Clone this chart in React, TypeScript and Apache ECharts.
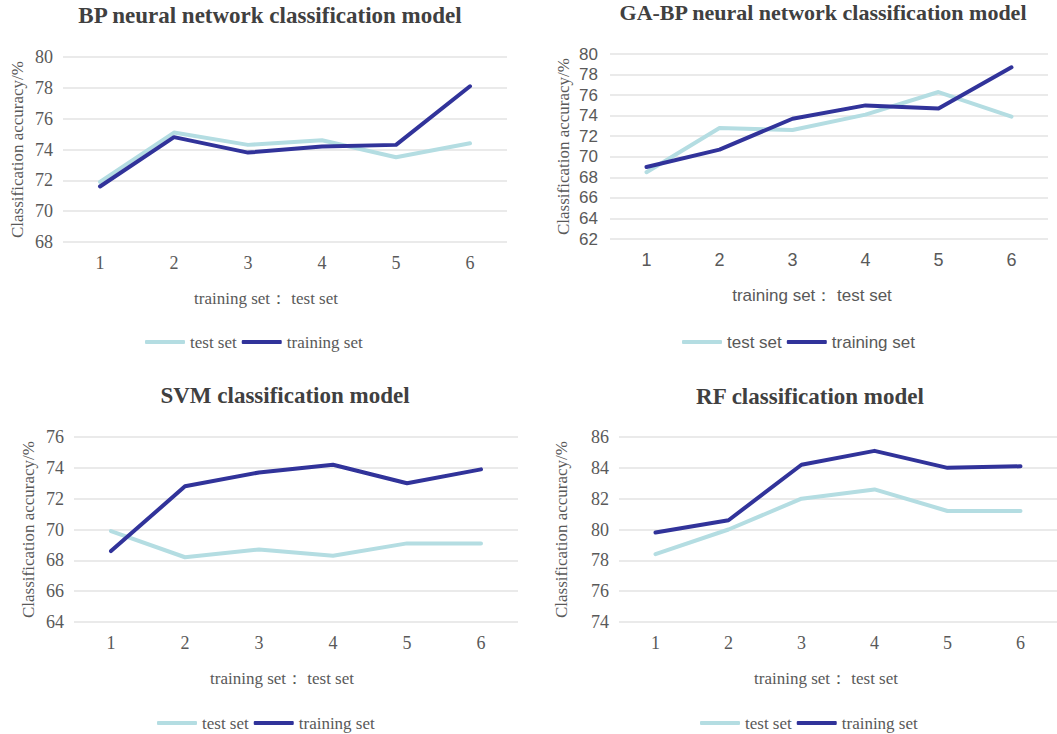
import React, { useEffect, useRef } from "react";
import * as echarts from "echarts";

const categories = ["1", "2", "3", "4", "5", "6"];
const seriesNames = ["test set", "training set"];

const bpTest = [71.9, 75.1, 74.3, 74.6, 73.5, 74.4];
const bpTrain = [71.6, 74.8, 73.8, 74.2, 74.3, 78.1];
const gaTest = [68.5, 72.8, 72.6, 74.1, 76.3, 73.9];
const gaTrain = [69.0, 70.7, 73.7, 75.0, 74.7, 78.7];
const svmTest = [69.9, 68.2, 68.7, 68.3, 69.1, 69.1];
const svmTrain = [68.6, 72.8, 73.7, 74.2, 73.0, 73.9];
const rfTest = [78.4, 80.0, 82.0, 82.6, 81.2, 81.2];
const rfTrain = [79.8, 80.6, 84.2, 85.1, 84.0, 84.1];

const titles = [
  "BP neural network classification model",
  "GA-BP neural network classification model",
  "SVM classification model",
  "RF classification model",
];
const yRanges = [
  [68, 80],
  [62, 80],
  [64, 76],
  [74, 86],
];
const yName = "Classification accuracy/%";
const xName = "training set\uff1a test set";

const SERIF = "'Liberation Serif', 'Times New Roman', serif";
const SANS = "'Liberation Sans', Arial, sans-serif";
const TEST_COLOR = "#b4dde2";
const TRAIN_COLOR = "#31339a";

const layout = [
  { left: 63, top: 57, width: 444, titleX: 270, titleY: 4, titleSize: 23, legendLeft: 145, legendTop: 332, yGap: 37, xPad: 38, sans: false },
  { left: 610, top: 54, width: 438, titleX: 823, titleY: 1, titleSize: 22, legendLeft: 682, legendTop: 332, yGap: 38, xPad: 34, sans: true },
  { left: 74, top: 437, width: 444, titleX: 285, titleY: 384, titleSize: 23, legendLeft: 157, legendTop: 713, yGap: 37, xPad: 28, sans: false },
  { left: 619, top: 437, width: 438, titleX: 810, titleY: 385, titleSize: 23, legendLeft: 700, legendTop: 713, yGap: 49, xPad: 24, sans: false },
];
const dataSets = [
  [bpTest, bpTrain],
  [gaTest, gaTrain],
  [svmTest, svmTrain],
  [rfTest, rfTrain],
];

export default function App() {
  const ref = useRef<HTMLDivElement>(null);
  useEffect(() => {
    if (!ref.current) return;
    const chart = echarts.init(ref.current, null, { renderer: "svg" });
    const option: any = {
      animation: false,
      backgroundColor: "#ffffff",
      title: layout.map((l, i) => ({
        text: titles[i],
        left: l.titleX,
        top: l.titleY,
        padding: 0,
        textAlign: "center",
        textStyle: { fontFamily: SERIF, fontSize: l.titleSize, fontWeight: "bold", color: "#404040" },
      })),
      legend: layout.map((l) => ({
        data: seriesNames,
        left: l.legendLeft,
        top: l.legendTop,
        padding: 0,
        icon: "roundRect",
        itemWidth: 40,
        itemHeight: 4,
        itemGap: 5,
        textStyle: { fontFamily: l.sans ? SANS : SERIF, fontSize: 17, color: "#595959", lineHeight: 20 },
      })),
      grid: layout.map((l) => ({ left: l.left, top: l.top, width: l.width, height: 185, containLabel: false })),
      xAxis: layout.map((l, i) => ({
        type: "category",
        gridIndex: i,
        data: categories,
        boundaryGap: true,
        axisLine: { show: false },
        axisTick: { show: false },
        axisLabel: { margin: 12, fontFamily: l.sans ? SANS : SERIF, fontSize: 18, color: "#595959" },
        name: xName,
        nameLocation: "middle",
        nameGap: 48,
        nameTextStyle: { fontFamily: l.sans ? SANS : SERIF, fontSize: 17, color: "#595959", padding: [0, l.xPad, 0, 0] },
      })),
      yAxis: layout.map((l, i) => ({
        type: "value",
        gridIndex: i,
        min: yRanges[i][0],
        max: yRanges[i][1],
        interval: 2,
        axisLine: { show: false },
        axisTick: { show: false },
        splitLine: { lineStyle: { color: "#e3e3e3", width: 1.5 } },
        axisLabel: { margin: l.sans ? 12 : 10, fontFamily: l.sans ? SANS : SERIF, fontSize: l.sans ? 17 : 18, color: "#595959" },
        name: yName,
        nameLocation: "middle",
        nameGap: l.yGap,
        nameTextStyle: { fontFamily: SERIF, fontSize: 17, color: "#595959" },
      })),
      series: dataSets.flatMap((ds, i) =>
        ds.map((vals, j) => ({
          type: "line",
          name: seriesNames[j],
          xAxisIndex: i,
          yAxisIndex: i,
          data: vals,
          symbol: "none",
          color: j === 0 ? TEST_COLOR : TRAIN_COLOR,
          lineStyle: { width: 4, color: j === 0 ? TEST_COLOR : TRAIN_COLOR, cap: "round", join: "round" },
          z: j + 2,
        }))
      ),
    };
    chart.setOption(option);
    return () => chart.dispose();
  }, []);
  return (
    <div
      ref={ref}
      style={{ position: "absolute", left: 0, top: 0, width: 1057, height: 734, background: "#fff" }}
    />
  );
}
